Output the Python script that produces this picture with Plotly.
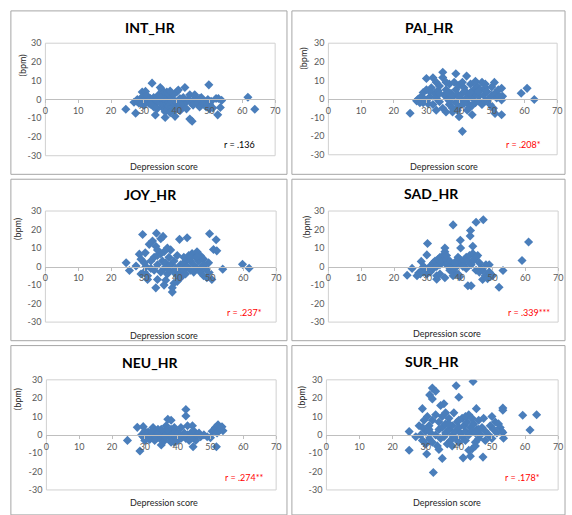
import plotly.graph_objects as go

W, H = 572, 515

panel_names = ["INT_HR", "PAI_HR", "JOY_HR", "SAD_HR", "NEU_HR", "SUR_HR"]
r_labels = ["r = .136", "r = .208*", "r = .237*", "r = .339***", "r = .274**", "r = .178*"]
r_colors = ["#000000", "#ff0000", "#ff0000", "#ff0000", "#ff0000", "#ff0000"]
x_ticks = [0, 10, 20, 30, 40, 50, 60, 70]
y_ticks = [-30, -20, -10, 0, 10, 20, 30]
y_ticktext = ["-30", "-20", "-10", "0", "10", "20", "30"]

int_hr = [(24.5,-5.2),(27.5,-7.3),(27,-1.5),(28,-1),(28.5,-2),(29,0.5),(29.5,4),(30,-1),(30.5,4.3),(30.5,1.5),
          (31,-0.5),(31,2),(31.5,-2),(32,0.5),(32.5,8.7),(32.5,-1),(33,-3),(33.5,-8.3),(33,1),(34,-1.5),(34,-0.5),
          (34.5,2.5),(35,6.4),(35.5,5.2),(35,-2),(35.5,-4),(36,-1),(36,-3),(36.5,-9.6),(36.5,-5),(36.5,-6.5),(37,-2),
          (37,-0.5),(37.5,-3.5),(37.5,1),(38,-2.5),(38,2),(38.5,-4),(38.5,-1),(39,-6),(39,0),(39.5,-9),(39.5,-3),
          (40,-1.5),(40,-5),(40,4),(40.5,5),(40.5,-2),(41,0.5),(41,-3),(41.5,-1),(42,-4),(42.5,6.4),(42,-2.5),(43,-1),
          (43,-5),(43.5,0),(44,-10.4),(44.7,-11.6),(44,2.5),(44.5,-2),(45,-0.5),(45.5,2.5),(45,-3),(46,0),(46.5,-2),
          (47,0.5),(47,-4),(47.5,1),(48,-2),(48.5,-1),(49,-4),(49.8,7.8),(49.5,0),(50,-2.5),(50,-5),(50.5,-1),
          (51,-4.5),(52,0.5),(52.5,-8.2),(52.7,0.5),(53.3,-4.3),(53.7,-0.5),(61.7,1.2),(63.8,-5.2),(36,3),(37,4),
          (38,-7),(34,-5),(33,-4),(32,-2.5),(30,-3),(29,-2),(28,0),(41,-6),(42,1),(39,2.5),(38,4.5),(36,0.5),(35,1)]

pai_hr = [(25,-7.7),(27,-1),(27.5,0),(28,-2),(28.5,1.5),(29,3.5),(29.5,-0.5),(30,11),(30,5),(30.5,-2.5),(31,1),
          (31.5,6),(32,11.4),(32,-3),(32.5,3),(33,-6),(33,0.5),(33.5,4.5),(34,-1.5),(34,7),(35,14.4),(35,11.5),
          (35,-5),(35.5,2),(36,-7),(36,5),(36.5,0),(37,-3),(37,8),(37.5,3),(38,-5),(38,1),(38.5,9),(39,13.6),(39,-2),
          (39,5),(39.5,2.5),(40,-9.6),(40,-4),(40,7.5),(40.5,0),(41,-17.4),(41,3),(41.5,6),(42,-1),(42.3,12.3),(42,4),
          (42.5,-6),(43,2),(43,-3),(43.5,8),(44,-8.5),(44,0.5),(44.5,5),(45,-2),(45,3),(45.5,7),(46,-1),(46,1.5),
          (46.5,5),(47,-3),(47,9),(47.5,2),(48,6),(48,-1),(48.5,4),(49,0),(49.5,-3),(50,2),(50,6.5),(50.5,-5),
          (50.8,8.9),(51,-7.8),(51,3),(51.5,0.5),(52,5),(52.5,1.5),(53,-8.5),(53,5.7),(53.3,1.4),(53,-0.5),(59,3.1),
          (60.8,5.7),(63,-0.3),(36,9),(38,-7),(39.5,-6),(41,9),(43,-5),(45,9.5),(34,3),(33,9),(37,-1),(42,0),
          (44,-3.5),(46,4),(48,8),(31,4),(29,-2),(36.5,3.5),(40,1),(41.5,-2.5),(43.5,3.5)]

joy_hr = [(24.5,2.1),(25.5,-2.1),(27.5,0.3),(28.5,6.7),(29,4),(29,-4),(29.5,17.3),(30.3,7.4),(30,-3),(30.5,0),
          (31,-5),(31.5,12),(32,-1),(32,3),(32.5,13.8),(33,-2),(33,5),(33.5,-11.5),(33.5,11),(33.7,18),(34,-7),(34,1),
          (34,6),(35,15),(35,-3),(35.5,3),(35.7,16.3),(36,-1),(36,8),(36.5,-7.4),(36.5,2),(37,-4),(37,0),(37.5,5),
          (37.5,-2),(38,1),(38,9),(38.5,-11.5),(38.5,-13.8),(39,-3),(39,3),(39.5,-1),(40,-5),(40,-8),(40,6),
          (40.7,14.7),(40.5,-3),(41,-1),(41,1),(41.5,-5),(42,2),(42,-2),(42.5,-4),(43,15.6),(43,0),(43,4),(43.5,6),
          (44,-2),(44,3),(44.5,7),(45,-3),(45,1),(45.5,5),(46,8),(46,-1),(46.5,3),(47,-3),(47,6),(47.5,0),(48,4),
          (48,-5),(48.5,-1),(49,-6),(49.5,2),(49.7,-3.2),(49.8,17.7),(50.5,-7),(51,9.2),(51.8,14.5),(52,8.5),
          (53.8,-1.4),(59.8,1.2),(61.8,-0.9),(31,-7),(36,-10),(42,5),(44,5),(46,5),(48,1),(35,7),(37,10),(34,9),
          (30,2),(41,-6),(39,-9)]

sad_hr = [(24,-4.7),(25.5,-1),(27,-5),(27.5,-3.5),(28,-4),(28.3,2.8),(28.5,-2),(29,-3),(29.5,-1),(30,-4),(30,6.3),
          (30.2,12.5),(30.5,-2),(31,0),(31,-3),(31.5,1),(32,-1),(32,2),(32.5,3),(33,-6.8),(33,-5),(33,0),(33.5,4),
          (34,1),(34,5),(34.5,2),(35,6),(35,3),(35.5,10),(35.5,8),(35.5,-6),(36,4),(36,1),(36.5,2),(37,0),(37,-2),
          (37.5,-1),(38,22.5),(38,-3),(38,-5),(38.5,-1),(39,1),(39,3),(39.5,5),(39.5,-4),(40,4),(40,-5.5),(40.2,14.2),
          (40.3,10),(40.5,2),(41,1),(41.5,3),(42,-1),(42,5),(42.5,-10.4),(42.5,3),(43,6),(43.2,16.5),(43.3,19.5),
          (43.5,-10.4),(43.5,1),(44,7),(44,11),(44,3),(44.5,4),(45,23.9),(45,5),(45,-2),(45.5,6),(46,-3),(46.5,-1),
          (47,-2),(47.2,25.3),(47,-7),(47.8,-5),(48,1),(48.5,-6.5),(49,-3),(49,1),(49.5,-4),(50,-5),(52,-11.2),
          (53.2,-2.1),(59,3.3),(61,13.3),(36,6),(37,3),(34,-4),(31,-1),(29,0),(41,0),(46,2),(38.5,2)]

neu_hr = [(24.7,-3),(27.7,4.1),(28.5,-8.8),(29,0),(29.5,4.5),(29.5,-1),(30,2),(30,-2),(30.5,0.5),(31,-1),(31,1.5),
          (31.5,-2.5),(32,0),(32.5,4),(32.5,-1.5),(33,2),(33,-3),(33.5,0),(34,-1),(34,3),(34.5,-2),(35,1),(35,-5.5),
          (35.5,-0.5),(36,2),(36,-3),(36.5,5),(37,8.5),(37,0),(37.5,-1),(38,8),(38,3),(38,-2),(38.5,1),(39,-4),(39,0),
          (39.5,2),(40,-1),(40,-3),(40.5,0.5),(41,-2),(41,4),(41.5,-1),(42,1),(42.5,13.8),(42.5,10.3),(42.5,-2),
          (43,0),(43,5),(43.5,-3),(44,1),(44.5,5),(44.7,-6.5),(45,-1),(45,2),(45.5,-3),(46,0),(46.5,1),(47,-1),(48,0),
          (49,-1),(50,-1.5),(50.5,2),(51,2.3),(51.5,4),(51.8,-6.5),(52,1),(52.3,5.5),(53,3),(53.5,4.4),(53.8,2.3),
          (30,-3),(32,2),(34,1),(36,-1),(37,3),(39,4),(40,1),(33,-2),(35,3),(31,-2),(38,-4),(44,-2)]

sur_hr = [(25,1.8),(25,-8.4),(27,-1),(28,5),(28.5,0),(29,14.3),(29,-3),(29.5,8),(30,-5),(30,2),(30.3,-10.4),
          (30.5,10),(31,-2),(31,5),(31.2,21.8),(31.5,1),(32,25.5),(32,19.6),(32,-4),(32,8),(32.3,-20.5),(33,23.8),
          (33,11),(33,0),(33.5,-6),(34,3),(34,7),(34.5,16),(34.5,-2),(35,-12.8),(35,4),(35,10),(35.5,17),(35.5,-1),
          (36,6),(36,1),(36.5,-5),(37,3),(37,9),(37.5,-3),(38,5),(38,0),(38.5,12),(39,2),(39,-2),(39.2,26.8),(39.5,7),
          (40,20.5),(40,-4),(40,4),(40.5,1),(41,9),(41,-1),(41.3,-12.5),(41.5,5),(42,2),(42,-3),(42.5,7),(43,-8.4),
          (43,0),(43,11),(43.5,-11.6),(43.5,4),(44,-7.7),(44,2),(44.3,29.1),(44.5,6),(45,-4),(45,1),(45.3,14.3),
          (45.5,3),(46,-2),(46,8),(46.5,0),(47,4),(47.3,-12.1),(47.5,9),(48,-3),(48,2),(49,0),(49.5,5),(50,-2),
          (50,10),(50.5,3),(51,7),(51.5,1),(52,6),(52.5,4),(53,2),(53.3,14.6),(53.3,13.4),(53.3,1.3),(53.5,-1.8),
          (59.3,10.7),(61.5,2.7),(63.5,11),(36,12),(38,-6),(34,-8),(37,6),(40,8),(42,10),(45,-6),(31,3),(29,4),
          (44,9),(46,3)]

datasets = [int_hr, pai_hr, joy_hr, sad_hr, neu_hr, sur_hr]

# layout geometry in pixels
plot_px = [  # x0, x1, ytop, ybottom
    (43, 276, 38, 153),
    (330, 562, 38, 152),
    (43, 277, 209.5, 323),
    (330, 563, 209.5, 323),
    (44, 277, 382, 494.5),
    (328, 563, 382, 494.5),
]
frames_px = [(8, 288, 5, 172), (293, 570, 5, 172), (8, 288, 177, 342),
             (293, 570, 177, 342), (8, 288, 347, 520), (293, 570, 347, 520)]
title_px = [(150, 22), (433, 22), (150, 193), (435, 192), (150, 364), (435, 363)]
xlab_px = [(163, 164), (447, 164), (163, 337), (450, 335), (163, 507), (450, 507)]
ylab_px = [(20, 61), (305, 54), (14, 228), (307, 226), (15, 402), (303, 400)]
r_px = [(240, 142), (528, 142), (245, 313), (533, 313), (245, 482), (527, 482)]

def px(x): return x / W
def py(y): return 1 - y / H

FONT = "Lato"
TICKC = "#595959"
fig = go.Figure()
shapes = []
annotations = []

for i, (pts, name) in enumerate(zip(datasets, panel_names)):
    n = i + 1
    xs = [p[0] for p in pts]
    ys = [p[1] for p in pts]
    xa = "x" if n == 1 else f"x{n}"
    ya = "y" if n == 1 else f"y{n}"
    fig.add_trace(go.Scatter(x=xs, y=ys, mode="markers", xaxis=xa, yaxis=ya,
                             marker=dict(symbol="diamond", size=7, color="#4a7ebb",
                                         line=dict(width=0)),
                             showlegend=False, hoverinfo="skip"))
    x0, x1, yt, yb = plot_px[i]
    d_y = [py(yb), py(yt)]
    fig.update_layout(**{
        ("xaxis" if n == 1 else f"xaxis{n}"): dict(
            domain=[px(x0), px(x1)], range=[0, 70], tickvals=x_ticks,
            anchor="free", position=(d_y[0] + d_y[1]) / 2,
            showline=True, linecolor="#bfbfbf", linewidth=1,
            ticks="outside", ticklen=3, tickcolor="#bfbfbf",
            showgrid=False, zeroline=False,
            tickfont=dict(family=FONT, size=9, color=TICKC), fixedrange=True),
        ("yaxis" if n == 1 else f"yaxis{n}"): dict(
            domain=d_y, range=[-30, 30], tickvals=y_ticks, ticktext=y_ticktext,
            anchor=xa, showline=False, showgrid=False, zeroline=False, ticks="",
            ticklabelstandoff=3,
            tickfont=dict(family=FONT, size=9, color=TICKC), fixedrange=True),
    })
    shapes.append(dict(type="rect", xref=f"{xa} domain", yref=f"{ya} domain",
                       x0=0, x1=1, y0=0, y1=1, line=dict(color="#d0d0d0", width=1),
                       layer="below"))
    fx0, fx1, fyt, fyb = frames_px[i]
    shapes.append(dict(type="rect", xref="paper", yref="paper",
                       x0=px(fx0), x1=px(fx1), y0=py(fyb), y1=py(fyt),
                       line=dict(color="#a6a6a6", width=1), layer="below"))
    tx, ty = title_px[i]
    annotations.append(dict(text=f"<b>{name}</b>", x=px(tx), y=py(ty), xref="paper", yref="paper",
                            showarrow=False, xanchor="center", yanchor="middle",
                            font=dict(family=FONT, size=14, color="#000000")))
    lx, ly = xlab_px[i]
    annotations.append(dict(text="Depression score", x=px(lx), y=py(ly), xref="paper", yref="paper",
                            showarrow=False, xanchor="center", yanchor="middle",
                            font=dict(family=FONT, size=9, color="#262626")))
    bx, by = ylab_px[i]
    annotations.append(dict(text="(bpm)", x=px(bx), y=py(by), xref="paper", yref="paper",
                            showarrow=False, xanchor="center", yanchor="middle", textangle=-90,
                            font=dict(family=FONT, size=9, color="#262626")))
    rx, ry = r_px[i]
    annotations.append(dict(text=r_labels[i], x=px(rx), y=py(ry), xref="paper", yref="paper",
                            showarrow=False, xanchor="center", yanchor="middle",
                            font=dict(family=FONT, size=9, color=r_colors[i])))

fig.update_layout(width=W, height=H, margin=dict(l=0, r=0, t=0, b=0),
                  paper_bgcolor="white", plot_bgcolor="white",
                  shapes=shapes, annotations=annotations)
fig.write_html("out.html", config={"displayModeBar": False},
               post_script="document.body.style.margin='0';")
